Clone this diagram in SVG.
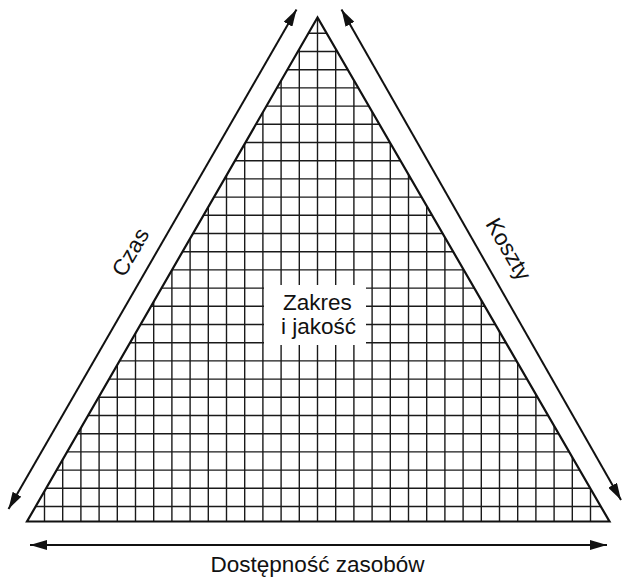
<svg xmlns="http://www.w3.org/2000/svg" width="624" height="578" viewBox="0 0 624 578">
<style>
.t{font-family:"Liberation Sans",Arial,sans-serif;font-size:22.5px;fill:#111;text-anchor:middle}
.g{stroke:#1a1a1a;stroke-width:1.4;fill:none}
.ar{stroke:#111;stroke-width:2;fill:none}
</style>
<defs>
<marker id="ah" markerWidth="17" markerHeight="10" refX="17" refY="5" orient="auto-start-reverse" markerUnits="userSpaceOnUse">
<path d="M0,0 L17,5 L0,10 Z" fill="#111"/>
</marker>
<clipPath id="tri"><polygon points="317.5,17.5 27,521.5 609.5,521.5"/></clipPath>
</defs>
<rect width="624" height="578" fill="#fff"/>
<g id="pyramid">
<g clip-path="url(#tri)">
<path class="g" d="M317.5 0V530M299.3 0V530M335.7 0V530M281.1 0V530M353.9 0V530M262.9 0V530M372.1 0V530M244.7 0V530M390.3 0V530M226.5 0V530M408.5 0V530M208.3 0V530M426.7 0V530M190.1 0V530M444.9 0V530M171.9 0V530M463.1 0V530M153.7 0V530M481.3 0V530M135.5 0V530M499.5 0V530M117.3 0V530M517.7 0V530M99.1 0V530M535.9 0V530M80.9 0V530M554.1 0V530M62.7 0V530M572.3 0V530M44.5 0V530M590.5 0V530"/>
<path class="g" d="M0 33.3H624M0 51.5H624M0 69.7H624M0 87.9H624M0 106.1H624M0 124.3H624M0 142.5H624M0 160.7H624M0 178.9H624M0 197.1H624M0 215.3H624M0 233.5H624M0 251.7H624M0 269.9H624M0 288.1H624M0 306.3H624M0 324.5H624M0 342.7H624M0 360.9H624M0 379.1H624M0 397.3H624M0 415.5H624M0 433.7H624M0 451.9H624M0 470.1H624M0 488.3H624M0 506.5H624"/>
</g>
<polygon points="317.5,17.5 27,521.5 609.5,521.5" fill="none" stroke="#111" stroke-width="2.2" stroke-linejoin="miter"/>
</g>
<g id="label-zakres">
<rect x="264" y="285" width="102" height="60" fill="#fff"/>
<text class="t" x="317.5" y="309.5">Zakres</text>
<text class="t" x="318.5" y="334">i jakość</text>
</g>
<g id="connectors">
<line class="ar" x1="8.5" y1="509" x2="296.5" y2="9.5" marker-start="url(#ah)" marker-end="url(#ah)"/>
<line class="ar" x1="341.5" y1="9.5" x2="621" y2="500" marker-start="url(#ah)" marker-end="url(#ah)"/>
<line class="ar" x1="30" y1="545" x2="607" y2="545" marker-start="url(#ah)" marker-end="url(#ah)"/>
</g>
<g id="label-czas">
<text class="t" transform="translate(137,256) rotate(-60)">Czas</text>
</g>
<g id="label-koszty">
<text class="t" transform="translate(502,253) rotate(60)">Koszty</text>
</g>
<g id="label-dostepnosc">
<text class="t" x="317.5" y="571.5">Dostępność zasobów</text>
</g>
</svg>
